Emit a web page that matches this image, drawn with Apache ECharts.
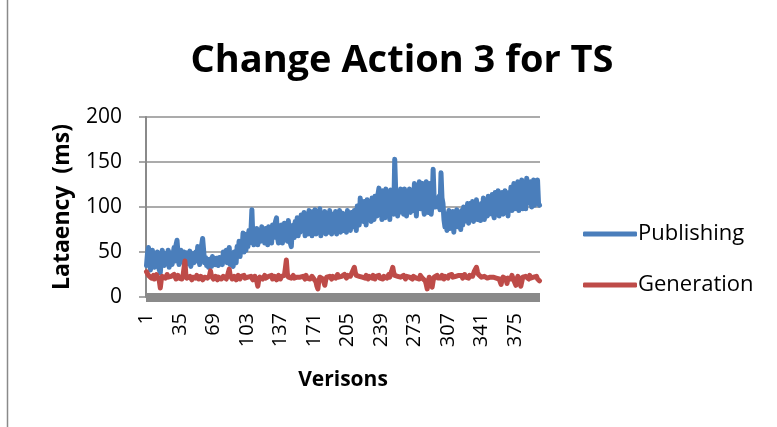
<!DOCTYPE html>
<html>
<head>
<meta charset="utf-8">
<script src="https://cdn.jsdelivr.net/npm/echarts@6/dist/echarts.min.js"></script>
<style>
  html, body { margin: 0; padding: 0; background: #ffffff; }
  #chart { width: 777px; height: 427px; }
</style>
</head>
<body>
<div id="chart"></div>
<script>
// Latency per version, in milliseconds
const seriesNames = ['Publishing', 'Generation'];

const publishing = [
  35, 48, 55, 40, 30, 45, 52, 38, 33, 47, 42, 50, 36, 30, 27, 40, 52, 44, 35, 48,
  38, 45, 52, 33, 41, 49, 36, 47, 55, 40, 58, 63, 48, 36, 44, 52, 39, 46, 50, 35,
  43, 49, 37, 45, 51, 34, 42, 48, 38, 46, 50, 40, 56, 44, 36, 48, 58, 65, 52, 38,
  44, 35, 40, 33, 42, 38, 34, 45, 37, 41, 36, 43, 39, 35, 44, 38, 42, 36, 50, 40,
  40, 52, 38, 46, 55, 36, 48, 42, 34, 50, 44, 38, 56, 48, 62, 45, 60, 52, 71, 50,
  64, 52, 70, 56, 74, 60, 72, 97, 66, 58, 72, 60, 76, 58, 70, 74, 62, 78, 64, 72,
  60, 76, 68, 58, 78, 64, 73, 60, 80, 66, 75, 84, 88, 66, 60, 76, 64, 80, 60, 74,
  82, 66, 78, 62, 85, 70, 60, 56, 74, 80, 66, 84, 72, 88, 68, 82, 72, 91, 76, 86,
  94, 68, 74, 92, 70, 96, 76, 90, 68, 95, 82, 97, 70, 88, 94, 72, 98, 68, 86, 93,
  72, 95, 70, 90, 84, 72, 96, 80, 70, 92, 86, 74, 95, 70, 90, 82, 96, 72, 88, 93,
  74, 92, 86, 72, 96, 80, 90, 74, 94, 88, 78, 96, 86, 74, 101, 92, 80, 110, 88, 99,
  84, 106, 94, 80, 108, 96, 88, 104, 84, 110, 92, 86, 112, 100, 90, 114, 121, 92, 108, 86,
  118, 96, 88, 120, 102, 90, 116, 86, 119, 96, 108, 92, 153, 118, 100, 90, 118, 94, 120, 102,
  112, 92, 120, 98, 90, 116, 104, 120, 94, 110, 118, 96, 126, 104, 90, 124, 108, 128, 98, 118,
  126, 100, 92, 122, 128, 106, 94, 126, 110, 92, 104, 142, 110, 100, 98, 108, 100, 112, 97, 138,
  110, 104, 86, 78, 92, 74, 88, 96, 76, 90, 84, 95, 72, 88, 80, 97, 78, 92, 84, 75,
  96, 80, 100, 84, 98, 88, 104, 82, 98, 104, 86, 106, 84, 100, 90, 108, 86, 102, 96, 85,
  104, 88, 110, 86, 100, 106, 90, 112, 92, 102, 94, 114, 92, 88, 116, 100, 92, 118, 90, 110,
  100, 116, 92, 108, 118, 94, 112, 90, 116, 100, 122, 96, 114, 126, 98, 118, 104, 128, 96, 120,
  104, 130, 98, 124, 112, 98, 132, 104, 122, 110, 128, 100, 118, 130, 102, 126, 108, 130, 104, 102
];

const generation = [
  28, 26, 24, 22, 25, 21, 23, 24, 20, 22, 25, 23, 21, 18, 10, 19, 23, 24, 22, 21,
  23, 25, 22, 20, 24, 23, 21, 22, 25, 23, 20, 22, 24, 21, 23, 22, 20, 23, 24, 40,
  24, 21, 22, 20, 23, 21, 19, 22, 23, 20, 21, 24, 22, 20, 21, 23, 22, 19, 21, 22,
  20, 23, 21, 22, 24, 29, 23, 21, 20, 22, 23, 21, 19, 22, 24, 21, 20, 22, 23, 21,
  22, 20, 23, 25, 31, 24, 22, 20, 21, 23, 22, 19, 21, 24, 22, 20, 23, 21, 22, 24,
  21, 23, 20, 22, 24, 21, 23, 22, 19, 21, 23, 20, 17, 12, 19, 22, 21, 23, 20, 22,
  24, 21, 22, 20, 23, 21, 22, 24, 20, 21, 23, 22, 19, 21, 24, 22, 20, 23, 21, 22,
  24, 32, 41, 26, 22, 20, 23, 21, 22, 24, 21, 20, 23, 22, 21, 24, 22, 20, 21, 23,
  22, 20, 24, 21, 23, 22, 20, 21, 23, 22, 20, 21, 17, 12, 9, 18, 22, 21, 23, 20,
  18, 13, 19, 22, 24, 21, 23, 22, 20, 23, 24, 22, 21, 23, 25, 22, 24, 21, 23, 24,
  22, 25, 23, 21, 24, 22, 26, 23, 25, 28, 30, 33, 27, 24, 22, 25, 23, 21, 24, 22,
  20, 23, 21, 24, 22, 20, 23, 25, 22, 21, 24, 22, 20, 23, 21, 22, 24, 21, 23, 22,
  20, 23, 22, 24, 21, 23, 25, 22, 26, 29, 33, 27, 24, 22, 25, 23, 21, 24, 22, 23,
  21, 24, 22, 20, 23, 21, 24, 22, 23, 21, 20, 23, 24, 22, 21, 23, 22, 20, 24, 22,
  21, 23, 22, 18, 14, 9, 17, 22, 19, 14, 11, 18, 22, 20, 23, 24, 21, 22, 23, 21,
  24, 22, 20, 23, 25, 22, 21, 24, 22, 23, 25, 22, 24, 21, 23, 25, 22, 24, 23, 22,
  24, 21, 23, 25, 22, 24, 23, 21, 24, 22, 25, 23, 26, 29, 31, 33, 28, 25, 23, 24,
  22, 24, 21, 23, 22, 24, 21, 20, 23, 22, 21, 24, 22, 20, 23, 21, 19, 22, 20, 17,
  14, 19, 22, 21, 23, 20, 15, 21, 23, 22, 20, 24, 21, 19, 22, 13, 20, 23, 21, 18,
  12, 17, 22, 24, 21, 23, 25, 22, 20, 24, 21, 23, 19, 22, 24, 21, 23, 20, 19, 18
];

// Version numbers 1..N along the category axis
const versions = publishing.map((_, i) => String(i + 1));

// Value axis ticks
const yTicks = [0, 50, 100, 150, 200];

const FONT = '"Open Sans", "Liberation Sans", Arial, sans-serif';
const chart = echarts.init(document.getElementById('chart'), null, { renderer: 'canvas' });

chart.setOption({
  backgroundColor: '#ffffff',
  animation: false,
  title: {
    text: 'Change Action 3 for TS',
    left: 397,
    top: 37,
    textAlign: 'center',
    textStyle: { fontFamily: FONT, fontSize: 38, fontWeight: 'bold', color: '#000' }
  },
  legend: {
    orient: 'vertical',
    left: 578,
    top: 218,
    itemWidth: 54,
    itemHeight: 5,
    itemGap: 29,
    icon: 'roundRect',
    textStyle: { fontFamily: FONT, fontSize: 22, color: '#000', padding: [0, 0, 0, -4] },
    data: seriesNames
  },
  grid: { left: 146, right: 237, top: 117, bottom: 130, containLabel: false },
  xAxis: {
    type: 'category',
    data: versions,
    boundaryGap: true,
    offset: 4,
    name: 'Verisons',
    nameLocation: 'middle',
    nameGap: 69,
    nameTextStyle: { fontFamily: FONT, fontSize: 21, fontWeight: 'bold', color: '#000' },
    axisLine: { show: true, lineStyle: { color: '#8a8a8a', width: 9, cap: 'butt' } },
    axisTick: { show: false },
    axisLabel: {
      interval: 33,
      rotate: 90,
      margin: 12,
      fontFamily: FONT,
      fontSize: 20,
      color: '#000'
    },
    splitLine: { show: false }
  },
  yAxis: {
    type: 'value',
    min: yTicks[0],
    max: yTicks[yTicks.length - 1],
    interval: 50,
    name: 'Lataency  (ms)',
    nameLocation: 'middle',
    nameGap: 72,
    nameTextStyle: { fontFamily: FONT, fontSize: 23, fontWeight: 'bold', color: '#000' },
    axisLine: { show: true, lineStyle: { color: '#8a8a8a', width: 2 } },
    axisTick: { show: true, inside: false, length: 7, lineStyle: { color: '#8a8a8a', width: 1.5 } },
    axisLabel: { margin: 24, fontFamily: FONT, fontSize: 21, color: '#000' },
    splitLine: { show: true, lineStyle: { color: '#8f8f8f', width: 1.5 } }
  },
  series: [
    {
      name: seriesNames[0],
      type: 'line',
      data: publishing,
      showSymbol: false,
      symbol: 'none',
      color: '#4a7ebb',
      lineStyle: { width: 5, color: '#4a7ebb', cap: 'round', join: 'round' },
      z: 2
    },
    {
      name: seriesNames[1],
      type: 'line',
      data: generation,
      showSymbol: false,
      symbol: 'none',
      color: '#be4b48',
      lineStyle: { width: 5, color: '#be4b48', cap: 'round', join: 'round' },
      z: 3
    }
  ],
  graphic: [
    {
      type: 'line',
      shape: { x1: 7.5, y1: 0, x2: 7.5, y2: 427 },
      style: { stroke: '#8a8a8a', lineWidth: 1.5 },
      silent: true
    }
  ]
});
</script>
</body>
</html>
